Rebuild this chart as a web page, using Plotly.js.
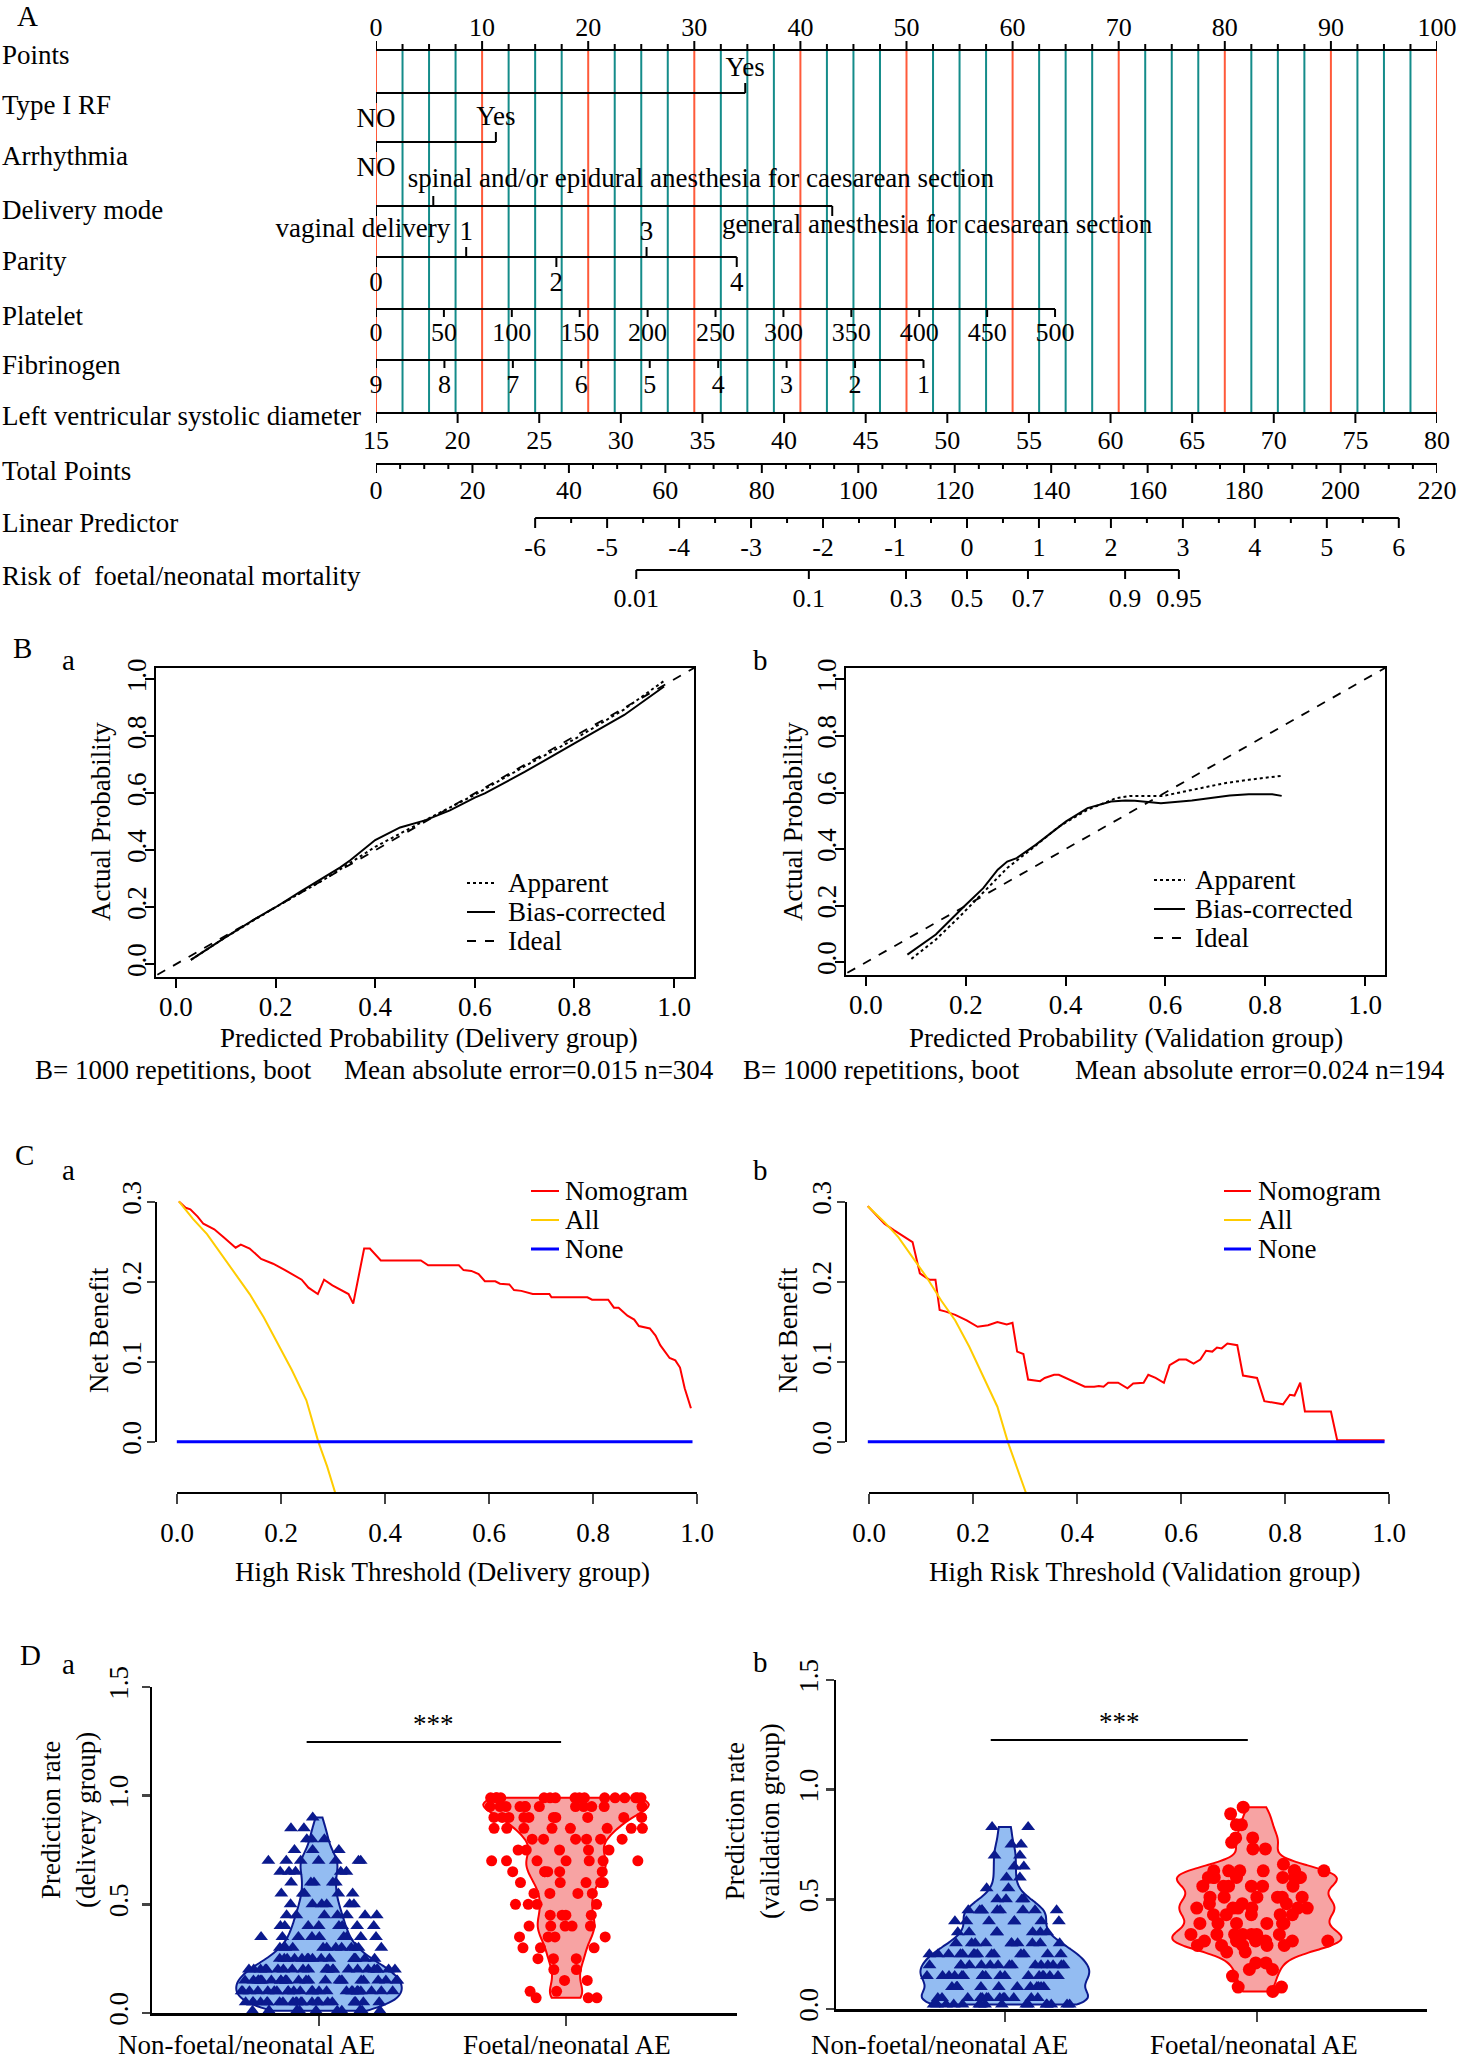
<!DOCTYPE html>
<html>
<head>
<meta charset="utf-8">
<script src="https://cdn.plot.ly/plotly-3.0.1.min.js"></script>
<style>
  html, body { margin: 0; padding: 0; background: #fff; }
  #chart { width: 1459px; height: 2054px; }
</style>
</head>
<body>
<div id="chart"></div>
<script>
const W = 1459, H = 2054;
const SERIF = '"Liberation Serif", "Times New Roman", Times, serif';
const px = v => v / W;
const py = v => 1 - v / H;
const domX = (a, b) => [px(a), px(b)];
const domY = (top, bottom) => [py(bottom), py(top)];

// ---------- A: nomogram ----------
const pointsTicks = [0, 10, 20, 30, 40, 50, 60, 70, 80, 90, 100];
const rfLevels = ["NO", "Yes"];
const rfPoints = [0, 34.8];
const arrLevels = ["NO", "Yes"];
const arrPoints = [0, 11.3];
const deliveryLevels = ["vaginal delivery", "spinal and/or epidural anesthesia for caesarean section", "general anesthesia for caesarean section"];
const deliveryPoints = [0, 5.4, 43.0];
const parityLevels = ["0", "1", "2", "3", "4"];
const parityPoints = [0, 8.5, 17.0, 25.5, 34.0];
const plateletTicks = [0, 50, 100, 150, 200, 250, 300, 350, 400, 450, 500];
const plateletMaxPoints = 64.0;      // platelet 500 -> 64 points
const fibrinogenTicks = [9, 8, 7, 6, 5, 4, 3, 2, 1];
const fibrinogenMaxPoints = 51.6;    // fibrinogen 1 -> 51.6 points
const lvsdTicks = [15, 20, 25, 30, 35, 40, 45, 50, 55, 60, 65, 70, 75, 80];
const totalTicks = [0, 20, 40, 60, 80, 100, 120, 140, 160, 180, 200, 220];
const lpTicks = [-6, -5, -4, -3, -2, -1, 0, 1, 2, 3, 4, 5, 6];
const lpOnPoints = [15.0, 96.4];     // LP -6 and +6 on the points scale
const riskTicks = [0.01, 0.1, 0.3, 0.5, 0.7, 0.9, 0.95];
const riskLabels = ["0.01", "0.1", "0.3", "0.5", "0.7", "0.9", "0.95"];

const rowNames = ["Points", "Type I RF", "Arrhythmia", "Delivery mode", "Parity", "Platelet", "Fibrinogen",
  "Left ventricular systolic diameter", "Total Points", "Linear Predictor", "Risk of\u00a0 foetal/neonatal mortality"];

// ---------- B: calibration ----------
const baAppX = [0.03, 0.1, 0.2, 0.3, 0.4, 0.5, 0.6, 0.7, 0.8, 0.9, 0.98];
const baAppY = [0.015, 0.095, 0.2, 0.3, 0.412, 0.505, 0.595, 0.695, 0.79, 0.895, 0.995];
const baBcX = [0.03, 0.1, 0.16, 0.2, 0.25, 0.3, 0.33, 0.35, 0.4, 0.45, 0.5, 0.55, 0.6, 0.62, 0.7, 0.8, 0.9, 0.98];
const baBcY = [0.015, 0.095, 0.16, 0.2, 0.255, 0.307, 0.34, 0.365, 0.436, 0.48, 0.505, 0.54, 0.585, 0.6, 0.675, 0.775, 0.875, 0.975];
const bbAppX = [0.091, 0.14, 0.188, 0.235, 0.283, 0.33, 0.387, 0.444, 0.501, 0.529, 0.596, 0.653, 0.719, 0.767, 0.833];
const bbAppY = [0.012, 0.08, 0.162, 0.245, 0.333, 0.398, 0.48, 0.539, 0.58, 0.588, 0.588, 0.609, 0.633, 0.645, 0.659];
const bbBcX = [0.083, 0.14, 0.197, 0.235, 0.264, 0.283, 0.302, 0.34, 0.401, 0.444, 0.491, 0.52, 0.539, 0.567, 0.591, 0.653, 0.729, 0.767, 0.814, 0.833];
const bbBcY = [0.027, 0.098, 0.198, 0.262, 0.327, 0.356, 0.368, 0.415, 0.498, 0.545, 0.568, 0.572, 0.571, 0.566, 0.562, 0.572, 0.589, 0.594, 0.594, 0.588];
const idealXY = [-0.1, 1.1];
const calibNames = ["Apparent", "Bias-corrected", "Ideal"];

// ---------- C: decision curves ----------
const caNomX = [0.004, 0.017, 0.026, 0.04, 0.051, 0.072, 0.09, 0.113, 0.123, 0.14, 0.162, 0.185, 0.208, 0.226, 0.24, 0.253, 0.271, 0.283, 0.299, 0.33, 0.339, 0.36, 0.371, 0.392, 0.469, 0.483, 0.542, 0.551, 0.566, 0.58, 0.592, 0.612, 0.621, 0.639, 0.648, 0.662, 0.684, 0.716, 0.72, 0.789, 0.798, 0.829, 0.84, 0.849, 0.866, 0.879, 0.888, 0.909, 0.92, 0.929, 0.947, 0.958, 0.967, 0.976, 0.988];
const caNomY = [0.301, 0.293, 0.291, 0.282, 0.273, 0.266, 0.256, 0.243, 0.247, 0.242, 0.229, 0.223, 0.215, 0.208, 0.203, 0.193, 0.185, 0.203, 0.196, 0.185, 0.173, 0.242, 0.242, 0.227, 0.227, 0.221, 0.221, 0.215, 0.214, 0.21, 0.201, 0.201, 0.198, 0.197, 0.19, 0.189, 0.185, 0.185, 0.181, 0.181, 0.178, 0.178, 0.168, 0.168, 0.158, 0.153, 0.145, 0.142, 0.133, 0.121, 0.105, 0.102, 0.093, 0.067, 0.042];
const caAllX = [0.004, 0.031, 0.058, 0.085, 0.113, 0.14, 0.167, 0.194, 0.221, 0.249, 0.272, 0.289, 0.305];
const caAllY = [0.301, 0.279, 0.26, 0.235, 0.21, 0.185, 0.156, 0.123, 0.09, 0.052, 0.0, -0.031, -0.065];
const caNoneX = [0, 0.991];
const caNoneY = [0, 0];
const cbNomX = [0, 0.014, 0.032, 0.05, 0.068, 0.086, 0.1, 0.113, 0.118, 0.13, 0.138, 0.15, 0.168, 0.19, 0.211, 0.231, 0.249, 0.267, 0.278, 0.287, 0.299, 0.308, 0.331, 0.34, 0.358, 0.367, 0.381, 0.394, 0.417, 0.435, 0.444, 0.453, 0.462, 0.481, 0.499, 0.51, 0.53, 0.539, 0.553, 0.569, 0.58, 0.598, 0.612, 0.626, 0.639, 0.65, 0.662, 0.671, 0.68, 0.691, 0.71, 0.721, 0.748, 0.762, 0.798, 0.811, 0.82, 0.831, 0.84, 0.89, 0.902, 0.993];
const cbNomY = [0.295, 0.285, 0.273, 0.265, 0.257, 0.25, 0.211, 0.206, 0.203, 0.203, 0.165, 0.163, 0.159, 0.152, 0.144, 0.146, 0.15, 0.147, 0.149, 0.113, 0.11, 0.078, 0.076, 0.08, 0.084, 0.084, 0.08, 0.076, 0.069, 0.069, 0.07, 0.069, 0.074, 0.074, 0.067, 0.073, 0.074, 0.084, 0.08, 0.074, 0.096, 0.103, 0.103, 0.098, 0.103, 0.114, 0.113, 0.118, 0.117, 0.123, 0.121, 0.083, 0.08, 0.051, 0.047, 0.059, 0.058, 0.074, 0.038, 0.038, 0.002, 0.002];
const cbAllX = [0, 0.032, 0.059, 0.086, 0.113, 0.141, 0.168, 0.195, 0.222, 0.249, 0.269, 0.286, 0.304];
const cbAllY = [0.295, 0.275, 0.256, 0.231, 0.206, 0.177, 0.152, 0.119, 0.082, 0.044, 0.0, -0.03, -0.064];
const cbNoneX = [0, 0.993];
const cbNoneY = [0, 0];
const dcaNames = ["Nomogram", "All", "None"];

const groups = ["Non-foetal/neonatal AE", "Foetal/neonatal AE"];
const daNonLevels = [0.01, 0.05, 0.1, 0.15, 0.2, 0.25, 0.3, 0.35, 0.4, 0.45, 0.5, 0.55, 0.6, 0.65, 0.7, 0.75, 0.8, 0.85, 0.9];
const daNonCounts = [13, 23, 26, 25, 22, 15, 11, 9, 8, 7, 6, 5, 5, 5, 7, 3, 3, 2, 1];
const daAELevels = [0.07, 0.1, 0.15, 0.2, 0.25, 0.3, 0.35, 0.4, 0.45, 0.5, 0.55, 0.6, 0.65, 0.7, 0.75, 0.8, 0.85, 0.9, 0.95, 0.99];
const daAECounts = [3, 2, 2, 2, 3, 3, 4, 5, 4, 4, 4, 5, 6, 7, 5, 6, 8, 10, 12, 16];
const dbNonLevels = [0.02, 0.05, 0.1, 0.15, 0.2, 0.25, 0.3, 0.35, 0.4, 0.45, 0.5, 0.55, 0.6, 0.65, 0.7, 0.75, 0.83];
const dbNonCounts = [16, 13, 12, 17, 15, 14, 10, 7, 7, 9, 4, 2, 2, 2, 2, 2, 2];
const dbAELevels = [0.08, 0.1, 0.15, 0.18, 0.21, 0.26, 0.29, 0.31, 0.34, 0.39, 0.43, 0.46, 0.48, 0.51, 0.56, 0.6, 0.63, 0.66, 0.73, 0.76, 0.78, 0.84, 0.89, 0.92];
const dbAECounts = [1, 2, 1, 2, 2, 2, 5, 7, 7, 6, 5, 6, 3, 6, 6, 8, 7, 1, 2, 1, 2, 2, 1, 1];

const expand = (levels, counts) => levels.flatMap((v, i) => Array(counts[i]).fill(v));

// ================= build =================
const traces = [];
const noHover = { hoverinfo: "skip", showlegend: false };

// nomogram rows (pixel rows on the y axis of panel A)
const rowY = { points: 50, rf: 93, arr: 142, delivery: 206, parity: 257, platelet: 309,
  fibrinogen: 360, lvsd: 413, total: 464, lp: 518, risk: 570 };
const rowNameY = [55, 105, 156, 210, 261, 316, 365, 416, 471, 523, 576];

const plateletPts = v => v / 500 * plateletMaxPoints;
const fibPts = v => (9 - v) / 8 * fibrinogenMaxPoints;
const lvsdPts = v => (v - 15) / 65 * 100;
const totalPts = v => v / 220 * 100;
const lpPts = v => lpOnPoints[0] + (v + 6) / 12 * (lpOnPoints[1] - lpOnPoints[0]);
const riskPts = p => lpPts(Math.log(p / (1 - p)));

// gridlines
const gridPts = [];
for (let p = 0; p <= 100; p += 2.5) gridPts.push(p);
const red = { x: [], y: [] }, teal = { x: [], y: [] };
gridPts.forEach(p => {
  const g = (p % 10 === 0) ? red : teal;
  g.x.push(p, p, null);
  g.y.push(rowY.points, rowY.lvsd, null);
});
traces.push({ type: "scatter", mode: "lines", x: teal.x, y: teal.y, xaxis: "x", yaxis: "y", line: { color: "#148C8A", width: 2 }, ...noHover });
traces.push({ type: "scatter", mode: "lines", x: red.x, y: red.y, xaxis: "x", yaxis: "y", line: { color: "#FF5A3A", width: 2 }, ...noHover });

const nomo = { x: [], y: [] };
const seg = (x0, y0, x1, y1) => { nomo.x.push(x0, x1, null); nomo.y.push(y0, y1, null); };
const nt = { x: [], y: [], text: [], pos: [], size: [] };
const put = (x, y, t, pos, size) => { nt.x.push(x); nt.y.push(y); nt.text.push(String(t)); nt.pos.push(pos || "middle center"); nt.size.push(size || 26); };

// points axis
seg(0, rowY.points, 100, rowY.points);
gridPts.forEach(p => seg(p, rowY.points, p, rowY.points - (p % 10 === 0 ? 9 : 6)));
pointsTicks.forEach(p => put(p, rowY.points - 21, p));

function catRow(levels, pts, sides, y) {
  seg(Math.min(...pts), y, Math.max(...pts), y);
  pts.forEach((x, i) => {
    const s = sides[i];
    seg(x, y, x, y + s * 10);
    put(x, y + (s > 0 ? 27 : -24), levels[i], null, 27);
  });
}
catRow(rfLevels, rfPoints, [1, -1], rowY.rf);
catRow(arrLevels, arrPoints, [1, -1], rowY.arr);
catRow(parityLevels, parityPoints, [1, -1, 1, -1, 1], rowY.parity);

// delivery mode: ticks plus long labels placed as in the figure
seg(Math.min(...deliveryPoints), rowY.delivery, Math.max(...deliveryPoints), rowY.delivery);
[1, -1, 1].forEach((s, i) => seg(deliveryPoints[i], rowY.delivery, deliveryPoints[i], rowY.delivery + s * 10));
const deliveryLabelX = [7.0, 3.0, 32.6];
const deliveryLabelPos = ["middle left", "middle right", "middle right"];
const deliveryLabelY = [rowY.delivery + 24, rowY.delivery - 26, rowY.delivery + 20];
deliveryLevels.forEach((t, i) => put(deliveryLabelX[i], deliveryLabelY[i], t, deliveryLabelPos[i], 27));

function scaleRow(vals, toPts, y, len, dy, labels) {
  const p = vals.map(toPts);
  seg(Math.min(...p), y, Math.max(...p), y);
  p.forEach((x, i) => { seg(x, y, x, y + len); put(x, y + dy, labels ? labels[i] : vals[i]); });
}
scaleRow(plateletTicks, plateletPts, rowY.platelet, 8, 25);
scaleRow(fibrinogenTicks, fibPts, rowY.fibrinogen, 8, 26);
scaleRow(lvsdTicks, lvsdPts, rowY.lvsd, 10, 29);
scaleRow(totalTicks, totalPts, rowY.total, 9, 28);
for (let v = 5; v < 220; v += 5) if (v % 20 !== 0) seg(totalPts(v), rowY.total, totalPts(v), rowY.total + 5);
scaleRow(lpTicks, lpPts, rowY.lp, 10, 31);
for (let v = -5.5; v < 6; v += 1) seg(lpPts(v), rowY.lp, lpPts(v), rowY.lp + 5);
scaleRow(riskTicks, riskPts, rowY.risk, 9, 30, riskLabels);

traces.push({ type: "scatter", mode: "lines", x: nomo.x, y: nomo.y, xaxis: "x", yaxis: "y", line: { color: "#000", width: 2 }, ...noHover });
traces.push({ type: "scatter", mode: "text", x: nt.x, y: nt.y, text: nt.text, textposition: nt.pos,
  textfont: { family: SERIF, size: nt.size, color: "#000" }, cliponaxis: false, xaxis: "x", yaxis: "y", ...noHover });

// ---- B traces ----
const calibStyles = [{ color: "#000", width: 2, dash: "dot" }, { color: "#000", width: 2 }, { color: "#000", width: 1.8, dash: "dash" }];
const calib = (ax, ay, appX, appY, bcX, bcY) => [[appX, appY], [bcX, bcY], [idealXY, idealXY]].map((d, i) => (
  { type: "scatter", mode: "lines", x: d[0], y: d[1], xaxis: ax, yaxis: ay, name: calibNames[i], line: calibStyles[i], ...noHover }));
traces.push(...calib("x2", "y2", baAppX, baAppY, baBcX, baBcY));
traces.push(...calib("x3", "y3", bbAppX, bbAppY, bbBcX, bbBcY));

// ---- C traces ----
const dcaStyles = [{ color: "#FF0000", width: 2 }, { color: "#FFCC00", width: 2 }, { color: "#0000FF", width: 3 }];
const dca = (ax, ay, series) => series.map((d, i) => (
  { type: "scatter", mode: "lines", x: d[0], y: d[1], xaxis: ax, yaxis: ay, name: dcaNames[i], line: dcaStyles[i], ...noHover }));
traces.push(...dca("x4", "y4", [[caNomX, caNomY], [caAllX, caAllY], [caNoneX, caNoneY]]));
traces.push(...dca("x5", "y5", [[cbNomX, cbNomY], [cbAllX, cbAllY], [cbNoneX, cbNoneY]]));
// R-style axes for C (drawn only over the tick range)
traces.push({ type: "scatter", x: [], y: [], xaxis: "x8", yaxis: "y8", ...noHover });
traces.push({ type: "scatter", x: [], y: [], xaxis: "x9", yaxis: "y9", ...noHover });

// ---- D traces ----
const violin = (ax, ay, grp, vals, fill, edge, sym, size) => ({
  type: "violin", x0: grp, y: vals, xaxis: ax, yaxis: ay, name: grp,
  width: 0.67, scalemode: "width", spanmode: "hard", bandwidth: 0.045,
  fillcolor: fill, line: { color: edge, width: 2 },
  points: "all", pointpos: 0, jitter: 0.95,
  marker: { symbol: sym, size: size, color: edge },
  box: { visible: false }, meanline: { visible: false }, ...noHover
});
traces.push(violin("x6", "y6", groups[0], expand(daNonLevels, daNonCounts), "#93BCF2", "#0B1A8E", "triangle-up", 12));
traces.push(violin("x6", "y6", groups[1], expand(daAELevels, daAECounts), "#F7A3A3", "#FF0000", "circle", 11));
traces.push(violin("x7", "y7", groups[0], expand(dbNonLevels, dbNonCounts), "#93BCF2", "#0B1A8E", "triangle-up", 12));
traces.push(violin("x7", "y7", groups[1], expand(dbAELevels, dbAECounts), "#F7A3A3", "#FF0000", "circle", 13));

// ================= layout =================
const tickFont = { family: SERIF, size: 27, color: "#000" };
const hidden = { visible: false, showgrid: false, zeroline: false, fixedrange: true };

const bX = (d, anchor) => ({ domain: d, anchor: anchor, range: [-0.04, 1.04], showline: true, mirror: true, linecolor: "#000", linewidth: 2,
  ticks: "outside", ticklen: 9, tickwidth: 2, tickcolor: "#000", tickvals: [0, 0.2, 0.4, 0.6, 0.8, 1], tickformat: ".1f",
  tickfont: tickFont, showgrid: false, zeroline: false, ticklabelstandoff: -4 });
const bY = (d, anchor) => ({ ...bX(d, anchor), range: [-0.045, 1.04], tickangle: -90, ticklabelstandoff: -12 });

const cX = (d, pos) => ({ domain: d, anchor: "free", position: pos, range: [0, 1], showline: true, linecolor: "#000", linewidth: 2,
  ticks: "outside", ticklen: 10, tickwidth: 2, tickvals: [0, 0.2, 0.4, 0.6, 0.8, 1], tickformat: ".1f", tickfont: tickFont,
  showgrid: false, zeroline: false, ticklabelstandoff: 6 });
const cY = (d, pos) => ({ domain: d, anchor: "free", position: pos, range: [0, 0.3], showline: true, linecolor: "#000", linewidth: 2,
  ticks: "outside", ticklen: 8, tickwidth: 2, tickvals: [0, 0.1, 0.2, 0.3], tickformat: ".1f", tickangle: -90, tickfont: tickFont,
  showgrid: false, zeroline: false, ticklabelstandoff: -5 });

const dX = (d, anchor, r) => ({ domain: d, anchor: anchor, type: "category", categoryarray: groups, range: r,
  showline: true, linecolor: "#000", linewidth: 2.5, ticks: "outside", ticklen: 10, tickwidth: 2.5, showticklabels: false,
  showgrid: false, zeroline: false });
const dY = (d, anchor, standoff) => ({ domain: d, anchor: anchor, range: [0, 1.5], showline: true, linecolor: "#000", linewidth: 2.5,
  ticks: "outside", ticklen: 8, tickwidth: 2.5, tickvals: [0, 0.5, 1, 1.5], tickformat: ".1f", tickangle: -90, tickfont: tickFont,
  showgrid: false, zeroline: false, ticklabelstandoff: standoff });

const ann = (text, x, y, o) => ({ text, x: px(x), y: py(y), xref: "paper", yref: "paper", showarrow: false,
  xanchor: "center", yanchor: "middle", font: { family: SERIF, size: 27, color: "#000" }, ...(o || {}) });
const big = { font: { family: SERIF, size: 29, color: "#000" } };

// legends drawn in place (line sample + label)
const shapes = [];
const legendAnn = [];
function legendBox(x0, x1, tx, ys, names, styles) {
  ys.forEach((y, i) => {
    shapes.push({ type: "line", xref: "paper", yref: "paper", x0: px(x0), x1: px(x1), y0: py(y), y1: py(y), line: styles[i] });
    legendAnn.push(ann(names[i], tx, y, { xanchor: "left" }));
  });
}
legendBox(467, 495, 506, [883, 912, 941], calibNames, calibStyles);
legendBox(1154, 1185, 1193, [880, 909, 938], calibNames, calibStyles);
legendBox(531, 559, 563, [1191, 1220, 1249], dcaNames, dcaStyles);
legendBox(1224, 1251, 1256, [1191, 1220, 1249], dcaNames, dcaStyles);

const annotations = [
  ann("A", 27, 16, big),
  ...rowNames.map((t, i) => ann(t, 0, rowNameY[i], { xanchor: "left" })),
  ann("B", 22, 648, big), ann("a", 68, 660, big), ann("b", 760, 660, big),
  ann("Predicted Probability (Delivery group)", 429, 1038),
  ann("Actual Probability", 101, 822, { textangle: -90 }),
  ann("B= 1000 repetitions, boot", 33, 1070, { xanchor: "left" }),
  ann("Mean absolute error=0.015 n=304", 716, 1070, { xanchor: "right" }),
  ann("Predicted Probability (Validation group)", 1126, 1038),
  ann("Actual Probability", 793, 822, { textangle: -90 }),
  ann("B= 1000 repetitions, boot", 741, 1070, { xanchor: "left" }),
  ann("Mean absolute error=0.024 n=194", 1447, 1070, { xanchor: "right" }),
  ann("C", 24, 1155, big), ann("a", 68, 1170, big), ann("b", 760, 1170, big),
  ann("High Risk Threshold (Delivery group)", 442, 1572),
  ann("Net Benefit", 99, 1330, { textangle: -90 }),
  ann("High Risk Threshold (Validation group)", 1144, 1572),
  ann("Net Benefit", 788, 1330, { textangle: -90 }),
  ann("D", 30, 1655, big), ann("a", 68, 1664, big), ann("b", 760, 1662, big),
  ann("Prediction rate<br>(delivery group)", 68, 1820, { textangle: -90 }),
  ann("Prediction rate<br>(validation group)", 752, 1821, { textangle: -90 }),
  ann(groups[0], 246, 2045), ann(groups[1], 567, 2045),
  ann(groups[0], 940, 2045), ann(groups[1], 1254, 2045),
  { text: "***", x: 0.465, y: 1.25, xref: "x6", yref: "y6", showarrow: false, yanchor: "bottom", font: { family: SERIF, size: 27, color: "#000" } },
  { text: "***", x: 0.454, y: 1.23, xref: "x7", yref: "y7", showarrow: false, yanchor: "bottom", font: { family: SERIF, size: 27, color: "#000" } },
  ...legendAnn
];

shapes.push(
  { type: "line", xref: "x6", yref: "y6", x0: -0.05, x1: 0.98, y0: 1.247, y1: 1.247, line: { color: "#000", width: 2 } },
  { type: "line", xref: "x7", yref: "y7", x0: -0.056, x1: 0.964, y0: 1.227, y1: 1.227, line: { color: "#000", width: 2 } }
);

const layout = {
  width: W, height: H, margin: { l: 0, r: 0, t: 0, b: 0 },
  paper_bgcolor: "#fff", plot_bgcolor: "rgba(0,0,0,0)",
  font: { family: SERIF, color: "#000" },
  showlegend: false, hovermode: false, violinmode: "overlay",
  xaxis: { ...hidden, domain: domX(376, 1437), range: [0, 100], anchor: "y" },
  yaxis: { ...hidden, domain: domY(0, 640), range: [640, 0], anchor: "x" },
  xaxis2: bX(domX(156, 694), "y2"),
  yaxis2: bY(domY(668, 977), "x2"),
  xaxis3: bX(domX(846, 1385), "y3"),
  yaxis3: bY(domY(668, 975), "x3"),
  xaxis4: { ...hidden, domain: domX(156, 718), range: [-0.04, 1.04], anchor: "y4" },
  yaxis4: { ...hidden, domain: domY(1191, 1493), range: [-0.064, 0.314], anchor: "x4" },
  xaxis5: { ...hidden, domain: domX(847, 1409), range: [-0.04, 1.04], anchor: "y5" },
  yaxis5: { ...hidden, domain: domY(1191, 1493), range: [-0.064, 0.314], anchor: "x5" },
  xaxis8: cX(domX(177, 697), py(1493)),
  yaxis8: cY(domY(1202, 1442), px(156)),
  xaxis9: cX(domX(869, 1389), py(1493)),
  yaxis9: cY(domY(1202, 1442), px(846)),
  xaxis6: dX(domX(152, 737), "y6", [-0.676, 1.692]),
  yaxis6: dY(domY(1687, 2013), "x6", 3),
  xaxis7: dX(domX(836, 1427), "y7", [-0.67, 1.675]),
  yaxis7: dY(domY(1680, 2009), "x7", -3),
  annotations: annotations,
  shapes: shapes
};

Plotly.newPlot("chart", traces, layout, { staticPlot: true, displayModeBar: false });
</script>
</body>
</html>
